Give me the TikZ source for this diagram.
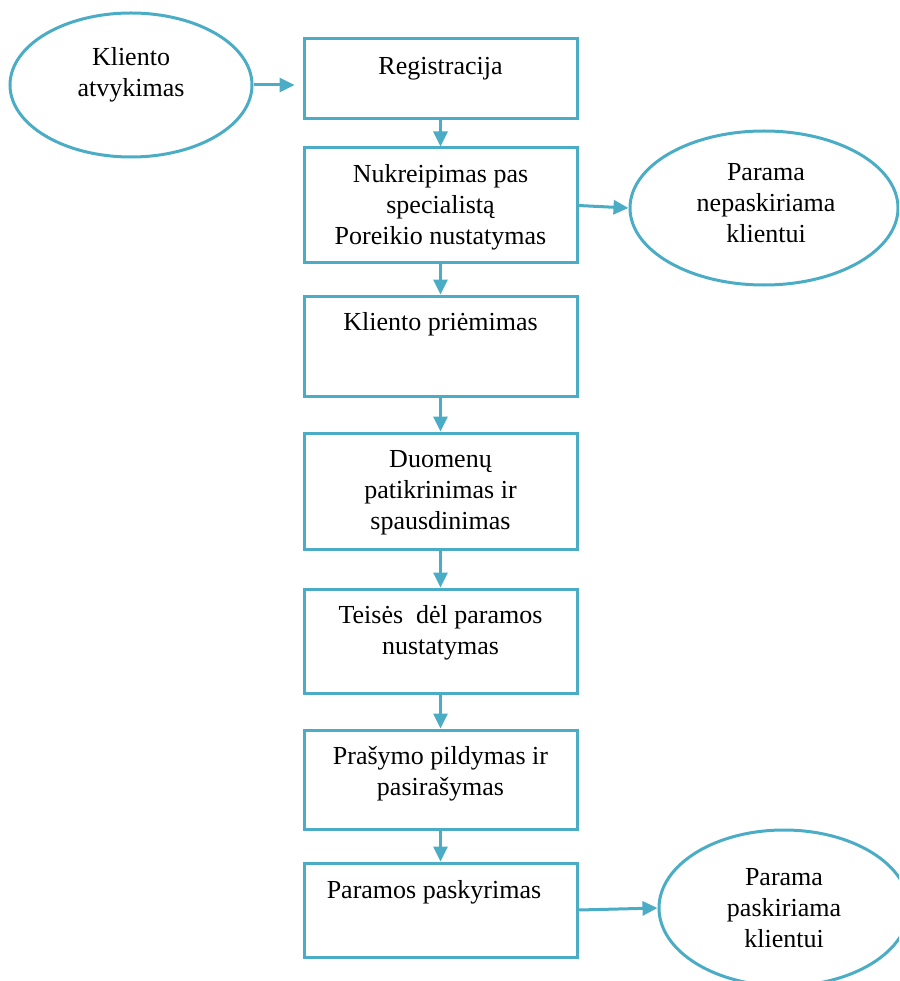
\documentclass[tikz,border=0pt]{standalone}
\usepackage{fontspec}
\setmainfont{Liberation Serif}
\usetikzlibrary{arrows.meta,shapes.geometric}
\definecolor{flow}{RGB}{75,172,198}
\begin{document}
\begin{tikzpicture}[x=1pt,y=-1pt,
  stepbox/.style={draw=flow,line width=3pt,minimum width=273pt,inner sep=0pt},
  oval/.style={ellipse,draw=flow,line width=3pt,inner sep=0pt},
  lbl/.style={font=\fontsize{26}{31}\selectfont,align=center,anchor=base,inner sep=0pt},
  flowarrow/.style={draw=flow,line width=3pt,-{Triangle[length=15pt,width=14pt]}}]
\useasboundingbox (0,0) rectangle (899,981);
\clip (0,0) rectangle (899,981);

% process boxes
\node[stepbox,minimum height=80pt]  (b1) at (440.5,79)    {};
\node[stepbox,minimum height=115pt] (b2) at (440.5,205.5) {};
\node[stepbox,minimum height=100pt] (b3) at (440.5,346)   {};
\node[stepbox,minimum height=116pt] (b4) at (440.5,491)   {};
\node[stepbox,minimum height=104pt] (b5) at (440.5,641)   {};
\node[stepbox,minimum height=99pt]  (b6) at (440.5,779.5) {};
\node[stepbox,minimum height=94pt]  (b7) at (440.5,910)   {};

% start and end states
\node[oval,minimum width=242pt,minimum height=144pt] (e1) at (131,85)  {};
\node[oval,minimum width=268pt,minimum height=154pt] (e2) at (764,208) {};
\node[oval,minimum width=250pt,minimum height=156pt] (e3) at (784,908) {};

% labels (anchored at the baseline of the last line)
\node[lbl] (t1) at (440.5,75)  {Registracija};
\node[lbl] (t2) at (440.5,245) {Nukreipimas pas\\specialistą\\Poreikio nustatymas};
\node[lbl] (t3) at (440.5,330) {Kliento priėmimas};
\node[lbl] (t4) at (440.5,529) {Duomenų\\patikrinimas ir\\spausdinimas};
\node[lbl] (t5) at (440.5,654) {Teisės\ \ dėl paramos\\nustatymas};
\node[lbl] (t6) at (440.5,795) {Prašymo pildymas ir\\pasirašymas};
\node[lbl] (t7) at (434,898)   {Paramos paskyrimas};
\node[lbl] (s1) at (131,97)    {Kliento\\atvykimas};
\node[lbl] (s2) at (766,243)   {Parama\\nepaskiriama\\klientui};
\node[lbl] (s3) at (784,947)   {Parama\\paskiriama\\klientui};

% connectors
\draw[flowarrow,shorten >=8pt] (e1.east) -- (b1.west |- e1.east);
\draw[flowarrow] (b1.south) -- (b2.north);
\draw[flowarrow] (b2.south) -- (b3.north);
\draw[flowarrow] (b3.south) -- (b4.north);
\draw[flowarrow] (b4.south) -- (b5.north);
\draw[flowarrow] (b5.south) -- (b6.north);
\draw[flowarrow] (b6.south) -- (b7.north);
\draw[flowarrow] (b2.east) -- (e2.west);
\draw[flowarrow] (b7.east) -- (e3.west);
\end{tikzpicture}
\end{document}
